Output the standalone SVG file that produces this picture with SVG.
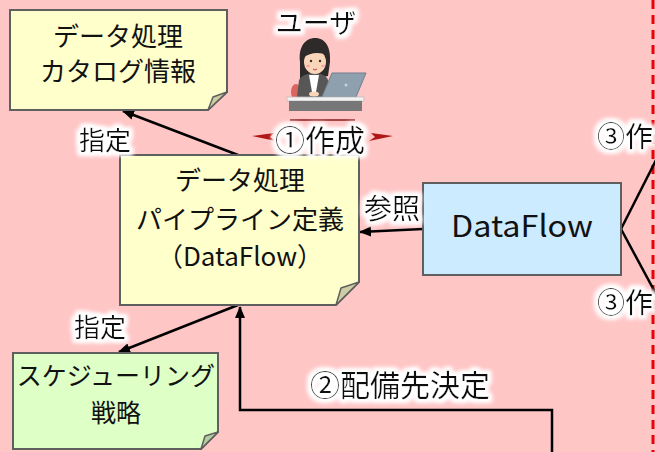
<svg xmlns="http://www.w3.org/2000/svg" width="655" height="452" viewBox="0 0 655 452">
  <defs>
    <style>
      .bg { fill: #FFC6C6; }
      .note { stroke: #5f5f5f; stroke-width: 2; }
      .yellow { fill: #FFFFCC; }
      .yfold { fill: #CDCDA4; }
      .green { fill: #DEFFC6; }
      .gfold { fill: #B4CDA0; }
      .blue { fill: #CCEBFF; stroke: #5f5f5f; stroke-width: 2; }
      .fold { stroke: #5f5f5f; stroke-width: 1.5; stroke-linejoin: round; }
      .t { font-family: "Noto Sans CJK JP", "Noto Sans", sans-serif; fill: #111; text-anchor: middle; }
      .lbl { font-family: "Noto Sans CJK JP", "Noto Sans", sans-serif; fill: #111; text-anchor: middle; filter: url(#halo); }
      .conn { fill: none; stroke: #000; stroke-width: 2.5; }
    </style>
    <filter id="halo" x="-20%" y="-30%" width="140%" height="160%">
      <feMorphology in="SourceAlpha" operator="dilate" radius="3" result="d"/>
      <feGaussianBlur in="d" stdDeviation="2" result="b"/>
      <feFlood flood-color="#ffffff"/>
      <feComposite in2="b" operator="in" result="glow"/>
      <feMerge>
        <feMergeNode in="glow"/>
        <feMergeNode in="glow"/>
        <feMergeNode in="SourceGraphic"/>
      </feMerge>
    </filter>
    <marker id="arr" viewBox="0 0 12 10" refX="11" refY="5" markerWidth="12" markerHeight="10" markerUnits="userSpaceOnUse" orient="auto">
      <path d="M0,0 L12,5 L0,10 Z" fill="#000"/>
    </marker>
  </defs>

  <rect class="bg" x="0" y="0" width="655" height="452"/>

  <!-- boundary -->
  <line x1="653" y1="0" x2="653" y2="452" stroke="#E8000B" stroke-width="3" stroke-dasharray="9 6"/>

  <!-- connectors -->
  <g id="connectors">
    <line class="conn" x1="238" y1="155" x2="123" y2="111" marker-end="url(#arr)"/>
    <line class="conn" x1="238" y1="305" x2="119" y2="352" marker-end="url(#arr)"/>
    <line class="conn" x1="423" y1="229" x2="360" y2="232" marker-end="url(#arr)"/>
    <polyline class="conn" stroke-width="3" points="552,452 552,410 240,410 240,307" marker-end="url(#arr)"/>
    <line class="conn" x1="621" y1="229" x2="656" y2="160"/>
    <line class="conn" x1="621" y1="229" x2="656" y2="294"/>
  </g>

  <!-- catalog note -->
  <g id="catalog">
    <path class="note yellow" d="M10,10 H227 V92 L208,110 H10 Z"/>
    <path class="fold yfold" d="M227,92 L213,97 L208,110 Z"/>
    <text class="t" x="118" y="46" font-size="26">データ処理</text>
    <text class="t" x="118" y="81" font-size="26">カタログ情報</text>
  </g>

  <!-- pipeline definition note -->
  <g id="pipeline">
    <path class="note yellow" d="M120,155 H359 V282 L336,305 H120 Z"/>
    <path class="fold yfold" d="M359,282 L341,288 L336,305 Z"/>
    <text class="t" x="240" y="190" font-size="26">データ処理</text>
    <text class="t" x="240" y="229" font-size="26">パイプライン定義</text>
    <text class="t" x="240" y="266" font-size="26">（DataFlow）</text>
  </g>

  <!-- DataFlow box -->
  <g id="dataflow">
    <rect class="blue" x="423" y="183" width="198" height="92"/>
    <text class="t" x="522" y="237" font-size="30" textLength="142" lengthAdjust="spacingAndGlyphs">DataFlow</text>
  </g>

  <!-- scheduling strategy note -->
  <g id="strategy">
    <path class="note green" d="M13,353 H218 V432 L201,449 H13 Z"/>
    <path class="fold gfold" d="M218,432 L205,436 L201,449 Z"/>
    <text class="t" x="116" y="385" font-size="25">スケジューリング</text>
    <text class="t" x="116" y="422" font-size="25">戦略</text>
  </g>

  <!-- user -->
  <g id="user">
    <text class="lbl" x="316" y="33" font-size="27">ユーザ</text>
    <!-- chair -->
    <ellipse cx="296" cy="92" rx="5" ry="8" fill="#D9655F"/>
    <!-- long hair -->
    <path d="M300,62 C298,46 306,38 315,38 C326,38 331,48 330,62 L328,76 L300,82 Z" fill="#2E2A2A"/>
    <!-- jacket -->
    <path d="M297,97 L299,80 C302,75 308,73 314,73 C320,73 326,75 328,80 L330,97 Z" fill="#575757"/>
    <path d="M309,75 L319,75 L316,92 L312,92 Z" fill="#ffffff"/>
    <!-- face -->
    <ellipse cx="315" cy="62" rx="11" ry="12" fill="#FBD5B8"/>
    <path d="M303,58 C305,45 322,43 327,55 C320,52 310,52 303,58 Z" fill="#2E2A2A"/>
    <circle cx="311" cy="61" r="1.2" fill="#333"/>
    <circle cx="320" cy="61" r="1.2" fill="#333"/>
    <ellipse cx="308" cy="66" rx="2" ry="1.3" fill="#F5A8A0"/>
    <ellipse cx="323" cy="66" rx="2" ry="1.3" fill="#F5A8A0"/>
    <path d="M313,69 Q315,71 317,69" stroke="#C0404A" stroke-width="1" fill="none"/>
    <!-- laptop -->
    <path d="M332,73 L366,73 L356,97 L322,97 Z" fill="#8E9FAD" stroke="#6F7F8C" stroke-width="1"/>
    <circle cx="346" cy="85" r="1.5" fill="#C8D2DA"/>
    <!-- hands -->
    <ellipse cx="314" cy="94" rx="5" ry="2.5" fill="#FBD5B8"/>
    <!-- desk -->
    <rect x="287" y="97" width="77" height="4" fill="#F2F2F2" stroke="#BDBDBD" stroke-width="0.8"/>
    <rect x="289" y="101" width="73" height="10" fill="#777777"/>
  </g>

  <!-- emphasis marks around the creation label -->
  <g id="create-mark">
    <line x1="290" y1="120" x2="355" y2="120" stroke="#8B1A1A" stroke-width="1.5"/>
    <path d="M252,136 L274,133 L270,137 L276,141 Z" fill="#B01818"/>
    <path d="M393,136 L371,133 L375,137 L369,141 Z" fill="#B01818"/>
  </g>

  <!-- connector labels -->
  <text class="lbl" x="105" y="150" font-size="26">指定</text>
  <text class="lbl" x="100" y="337" font-size="26">指定</text>
  <text class="lbl" x="392" y="219" font-size="28">参照</text>
  <text class="lbl" x="320" y="151" font-size="30">①作成</text>
  <text class="lbl" x="400" y="396" font-size="30">②配備先決定</text>
  <text class="lbl" x="597" y="147" font-size="28" style="text-anchor:start">③作</text>
  <text class="lbl" x="597" y="313" font-size="28" style="text-anchor:start">③作</text>
</svg>
